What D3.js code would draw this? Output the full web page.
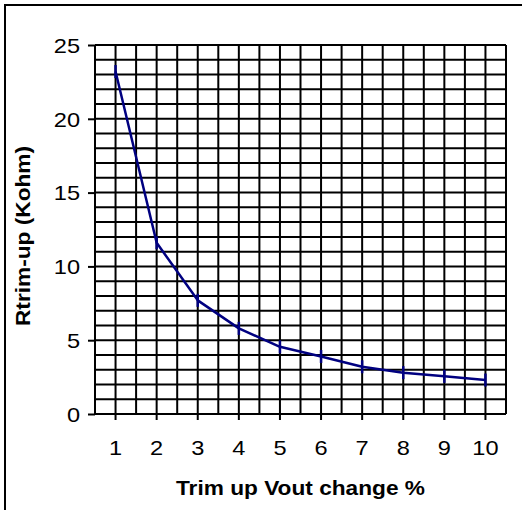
<!DOCTYPE html>
<html>
<head>
<meta charset="utf-8">
<script src="https://cdn.jsdelivr.net/npm/d3@7"></script>
<style>
  html, body { margin: 0; padding: 0; background: #fff; }
  svg { display: block; }
  text { font-family: "Liberation Sans", Arial, sans-serif; fill: #000; }
</style>
</head>
<body>
<svg id="chart" width="522" height="510"></svg>
<script>
// ---- data ----
const categories = ["1", "2", "3", "4", "5", "6", "7", "8", "9", "10"];
const rtrimUp = [23.2, 11.6, 7.7, 5.8, 4.55, 3.9, 3.2, 2.8, 2.55, 2.3];
const yTicks = [0, 5, 10, 15, 20, 25];
const xTitle = "Trim up Vout change %";
const yTitle = "Rtrim-up (Kohm)";

// ---- layout ----
const W = 522, H = 510;
const plot = { left: 95, right: 506, top: 45, bottom: 414 };
const FONT = "'Liberation Sans', Arial, sans-serif";
const tickFont = 20, tickScaleX = 1.18;
const titleFont = 21, titleScaleX = 1.08;

const svg = d3.select("#chart");

// outer frame (right/bottom edges fall outside the picture)
svg.append("rect")
  .attr("x", 5).attr("y", 5)
  .attr("width", W + 10).attr("height", H + 10)
  .attr("fill", "#fff").attr("stroke", "#000").attr("stroke-width", 2);

const x = d3.scaleBand().domain(categories).range([plot.left, plot.right]).padding(0);
const y = d3.scaleLinear().domain([0, 25]).range([plot.bottom, plot.top]);

// ---- gridlines ----
const grid = svg.append("g").attr("stroke", "#000").attr("stroke-width", 2);
grid.selectAll("line.h").data(d3.range(0, 26)).enter().append("line")
  .attr("x1", plot.left).attr("x2", plot.right)
  .attr("y1", d => y(d)).attr("y2", d => y(d));
const halfStep = x.step() / 2;
const vPos = d3.range(0, categories.length * 2 + 1).map(k => plot.left + k * halfStep);
grid.selectAll("line.v").data(vPos).enter().append("line")
  .attr("x1", d => d).attr("x2", d => d)
  .attr("y1", plot.top).attr("y2", plot.bottom);

// ---- axes ----
const yAxis = svg.append("g")
  .attr("transform", `translate(${plot.left},0)`)
  .attr("font-family", FONT)
  .call(d3.axisLeft(y).tickValues(yTicks).tickSize(7).tickPadding(8).tickFormat(d3.format("d")));
yAxis.attr("font-family", FONT);
yAxis.select(".domain").remove();
yAxis.selectAll(".tick line").attr("stroke", "#000").attr("stroke-width", 2);
yAxis.selectAll(".tick text")
  .attr("font-size", tickFont)
  .attr("font-family", FONT)
  .attr("dy", "0.36em")
  .attr("transform", function() {
    const tx = +d3.select(this).attr("x");
    return `translate(${tx},0) scale(${tickScaleX},1) translate(${-tx},0)`;
  });

const xAxis = svg.append("g")
  .attr("transform", `translate(0,${plot.bottom})`)
  .call(d3.axisBottom(x).tickSize(6).tickPadding(21));
xAxis.attr("font-family", FONT);
xAxis.select(".domain").remove();
xAxis.selectAll(".tick line").attr("stroke", "#000").attr("stroke-width", 2);
xAxis.selectAll(".tick text")
  .attr("font-size", tickFont)
  .attr("font-family", FONT)
  .attr("transform", `scale(${tickScaleX},1)`);

// ---- series line ----
const pts = categories.map((c, i) => [x(c) + x.bandwidth() / 2, y(rtrimUp[i])]);
svg.append("path")
  .datum(pts)
  .attr("fill", "none")
  .attr("stroke", "#000080")
  .attr("stroke-width", 2.5)
  .attr("stroke-linejoin", "round")
  .attr("d", d3.line().curve(d3.curveLinear));

// markers: short vertical dashes
svg.append("g").selectAll("line").data(pts).enter().append("line")
  .attr("x1", d => d[0]).attr("x2", d => d[0])
  .attr("y1", d => d[1] - 6.5).attr("y2", d => d[1] + 6.5)
  .attr("stroke", "#000080").attr("stroke-width", 2.5);

// ---- titles ----
const xc = (plot.left + plot.right) / 2;
svg.append("text")
  .attr("text-anchor", "middle")
  .attr("font-family", FONT)
  .attr("font-size", titleFont)
  .attr("font-weight", "bold")
  .attr("transform", `translate(${xc},495) scale(${titleScaleX},1)`)
  .text(xTitle);

svg.append("text")
  .attr("text-anchor", "middle")
  .attr("font-family", FONT)
  .attr("font-size", titleFont)
  .attr("font-weight", "bold")
  .attr("transform", `translate(30,236) rotate(-90) scale(${titleScaleX},1)`)
  .text(yTitle);
</script>
</body>
</html>
